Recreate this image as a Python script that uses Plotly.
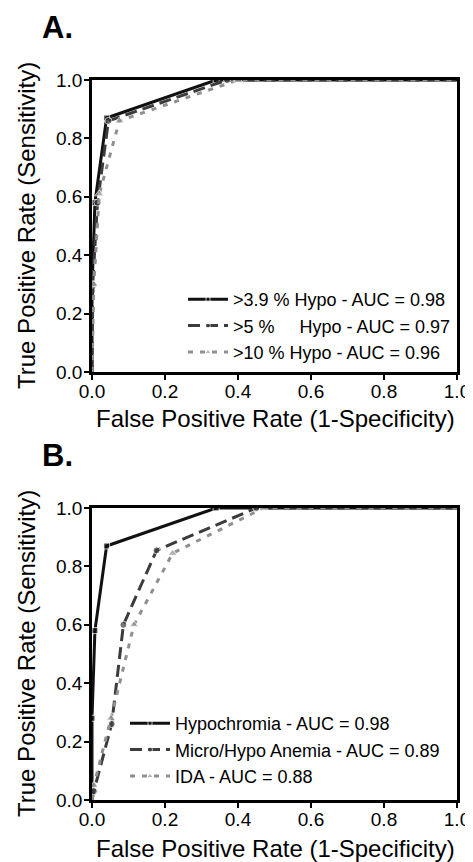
import plotly.graph_objects as go

# Panel A - ROC curves for % hypochromic cutoffs
fpr_a1 = [0.0, 0.0, 0.008, 0.04, 0.34, 1.0]
tpr_a1 = [0.0, 0.28, 0.58, 0.87, 1.0, 1.0]
fpr_a2 = [0.0, 0.002, 0.015, 0.045, 0.37, 1.0]
tpr_a2 = [0.0, 0.30, 0.58, 0.86, 1.0, 1.0]
fpr_a3 = [0.0, 0.005, 0.02, 0.075, 0.40, 1.0]
tpr_a3 = [0.0, 0.30, 0.61, 0.86, 1.0, 1.0]
names_a = [">3.9 %\u00a0Hypo - AUC = 0.98",
           ">5 %\u00a0\u00a0\u00a0\u00a0\u00a0Hypo - AUC = 0.97",
           ">10 %\u00a0Hypo - AUC = 0.96"]

# Panel B - ROC curves for the three definitions
fpr_b1 = [0.0, 0.0, 0.008, 0.04, 0.34, 1.0]
tpr_b1 = [0.0, 0.28, 0.58, 0.87, 1.0, 1.0]
fpr_b2 = [0.0, 0.005, 0.054, 0.086, 0.177, 0.45, 1.0]
tpr_b2 = [0.0, 0.03, 0.26, 0.60, 0.855, 1.0, 1.0]
fpr_b3 = [0.0, 0.005, 0.052, 0.115, 0.221, 0.47, 1.0]
tpr_b3 = [0.0, 0.05, 0.28, 0.60, 0.845, 1.0, 1.0]
names_b = ["Hypochromia - AUC = 0.98",
           "Micro/Hypo Anemia - AUC = 0.89",
           "IDA - AUC = 0.88"]

ticks = [0.0, 0.2, 0.4, 0.6, 0.8, 1.0]
tick_text = ["0.0", "0.2", "0.4", "0.6", "0.8", "1.0"]

# page body has an 8px margin, so the figure is a bit smaller than the window
OFF = 8
W, H = 473 - OFF, 862 - OFF
FONT = "Liberation Sans, Arial, sans-serif"


def px(x):
    return (x - OFF) / W


def py(y):
    return 1 - (y - OFF) / H


styles = [
    dict(color="#111111", dash="solid", symbol="square", msize=6),
    dict(color="#3c3c3c", dash="12px,6px", symbol="circle", msize=7),
    dict(color="#8f8f8f", dash="5px,7px", symbol="triangle-up", msize=8),
]

fig = go.Figure()


def add_roc(x, y, name, st, xa, ya, leg):
    # no marker drawn on the (0,0) and (1,1) end points
    sizes = [0] + [st["msize"]] * (len(x) - 2) + [0]
    fig.add_trace(go.Scatter(x=x, y=y, mode="lines+markers", name=name,
                             line=dict(color=st["color"], width=3, dash=st["dash"]),
                             marker=dict(symbol=st["symbol"], size=sizes, color=st["color"]),
                             xaxis=xa, yaxis=ya, legend=leg))


for (x, y), name, st in zip([(fpr_a1, tpr_a1), (fpr_a2, tpr_a2), (fpr_a3, tpr_a3)], names_a, styles):
    add_roc(x, y, name, st, "x", "y", "legend")
for (x, y), name, st in zip([(fpr_b1, tpr_b1), (fpr_b2, tpr_b2), (fpr_b3, tpr_b3)], names_b, styles):
    add_roc(x, y, name, st, "x2", "y2", "legend2")

axis_common = dict(range=[0, 1], tickvals=ticks, ticktext=tick_text, showgrid=False,
                   zeroline=False, showline=True, linecolor="black", linewidth=2.5,
                   mirror=True, ticks="outside", ticklen=5, tickwidth=2, tickcolor="black",
                   automargin=False, tickfont=dict(family=FONT, size=19, color="black"))
xax = dict(domain=[px(92), px(457)], ticklabelstandoff=-5, **axis_common)
yax = dict(ticklabelstandoff=-2, **axis_common)

legend_common = dict(xanchor="left", yanchor="middle", bgcolor="rgba(0,0,0,0)",
                     font=dict(family=FONT, size=18, color="black"),
                     tracegroupgap=0, itemwidth=40)

fig.update_layout(
    width=W, height=H,
    margin=dict(l=0, r=0, t=0, b=0),
    paper_bgcolor="white", plot_bgcolor="white",
    font=dict(family=FONT, color="black"),
    xaxis=dict(anchor="y", **xax),
    yaxis=dict(domain=[py(372), py(80)], anchor="x", **yax),
    xaxis2=dict(anchor="y2", **xax),
    yaxis2=dict(domain=[py(800), py(508)], anchor="x2", **yax),
    legend=dict(x=px(183), y=py(326), **legend_common),
    legend2=dict(x=px(125), y=py(750), **legend_common),
    showlegend=True,
)

ytitle = "True Positive Rate (Sensitivity)"
xtitle = "False Positive Rate (1-Specificity)"
for text, yc in [("<b>A.</b>", 27), ("<b>B.</b>", 455)]:
    fig.add_annotation(text=text, x=px(40), y=py(yc), xref="paper", yref="paper",
                       xanchor="left", yanchor="middle", showarrow=False,
                       font=dict(family=FONT, size=31, color="black"))
for yc, xc in [(226, 418), (654, 848)]:
    fig.add_annotation(text=ytitle, x=px(26), y=py(yc), xref="paper", yref="paper",
                       textangle=-90, showarrow=False, xanchor="center", yanchor="middle",
                       font=dict(family=FONT, size=24, color="black"))
    fig.add_annotation(text=xtitle, x=px(275), y=py(xc), xref="paper", yref="paper",
                       showarrow=False, xanchor="center", yanchor="middle",
                       font=dict(family=FONT, size=24, color="black"))

fig.write_html("out.html")
